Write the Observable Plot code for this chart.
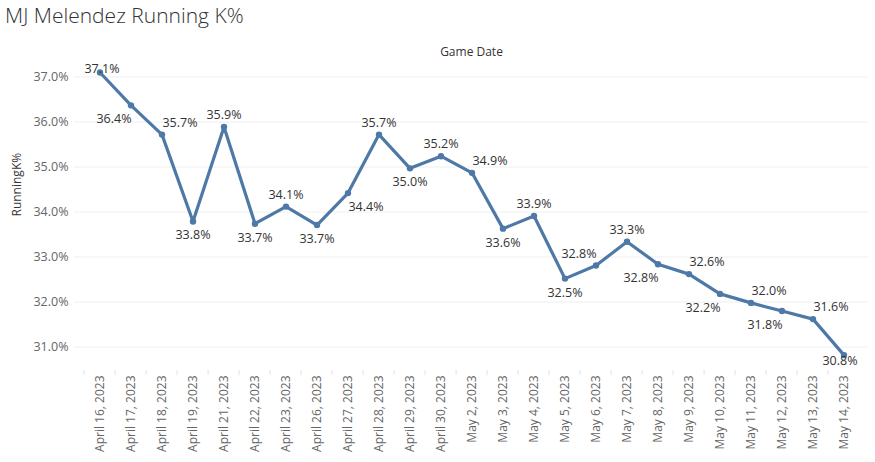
<!DOCTYPE html>
<html><head><meta charset="utf-8">
<script src="https://cdn.jsdelivr.net/npm/d3@7"></script>
<script src="https://cdn.jsdelivr.net/npm/@observablehq/plot@0.6"></script>
<style>
body{margin:0;background:#fff;font-family:"Open Sans",sans-serif;}
#title{height:30px;line-height:30px;padding-left:5px;font-size:21px;color:#333;font-weight:300;white-space:nowrap;}
#chart svg{display:block;}
</style></head><body>
<div id="title">MJ Melendez Running K%</div>
<div id="chart"></div>
<script>
const gameDates = ["April 16, 2023","April 17, 2023","April 18, 2023","April 19, 2023","April 21, 2023","April 22, 2023","April 23, 2023","April 26, 2023","April 27, 2023","April 28, 2023","April 29, 2023","April 30, 2023","May 2, 2023","May 3, 2023","May 4, 2023","May 5, 2023","May 6, 2023","May 7, 2023","May 8, 2023","May 9, 2023","May 10, 2023","May 11, 2023","May 12, 2023","May 13, 2023","May 14, 2023"];
const runningK = [37.10,36.37,35.72,33.79,35.89,33.74,34.12,33.71,34.42,35.72,34.97,35.24,34.87,33.63,33.91,32.52,32.81,33.34,32.84,32.62,32.18,31.98,31.80,31.62,30.82];
const labelPlacement = ["top","sw","ne","s","n","s","n","s","se","n","s","n","ne","s","n","s","nw","n","sw","ne","sw","ne","sw","ne","bottom"];
const yTicks = [31,32,33,34,35,36,37];

const data = gameDates.map((d,i)=>({date:d, k:runningK[i], pos:labelPlacement[i]}));
const offsets = {n:[0,-12], s:[0,14], ne:[18,-12], nw:[-17,-12], se:[18,14], sw:[-17,14], top:[2,-3], bottom:[-4,6]};
const W=875, H=432, mL=74, mR=7, mT=32, mB=92;
const bw = (W-mL-mR)/gameDates.length;
const fmt = v => v.toFixed(1) + "%";

const chart = Plot.plot({
  width: W, height: H,
  marginLeft: mL, marginRight: mR, marginTop: mT, marginBottom: mB,
  style: {fontFamily: "'Open Sans', sans-serif", fontSize: "12px", background: "white"},
  x: {type: "band", domain: gameDates, padding: 0},
  y: {domain: [30.478, 37.322]},
  marks: [
    Plot.gridY(yTicks, {stroke: "#efefef", strokeOpacity: 1}),
    Plot.axisY(yTicks, {tickSize: 0, tickPadding: 6, tickFormat: fmt, fill: "#666", fontSize: 12.5, label: null}),
    Plot.axisX({tickSize: 0, tickPadding: 5, tickRotate: -90, fill: "#666", fontSize: 12, label: null}),
    Plot.axisX({tickSize: 5, text: null, dx: -bw/2, stroke: "#e3e3e3", label: null}),
    Plot.line(data, {x: "date", y: "k", stroke: "#4e79a7", strokeWidth: 3.2}),
    Plot.dot(data, {x: "date", y: "k", fill: "#4e79a7", r: 3.2}),
    ...Object.entries(offsets).map(([p, [dx, dy]]) =>
      Plot.text(data.filter(d => d.pos === p), {x: "date", y: "k", text: d => fmt(d.k), dx, dy, fill: "#333", fontSize: 12.5})),
    Plot.text(["Game Date"], {frameAnchor: "top", dy: -15, fontSize: 12, fill: "#333"}),
    Plot.text(["RunningK%"], {frameAnchor: "left", rotate: -90, dx: -57, fontSize: 12, fill: "#333"})
  ]
});
document.getElementById("chart").appendChild(chart);
</script>
</body></html>
